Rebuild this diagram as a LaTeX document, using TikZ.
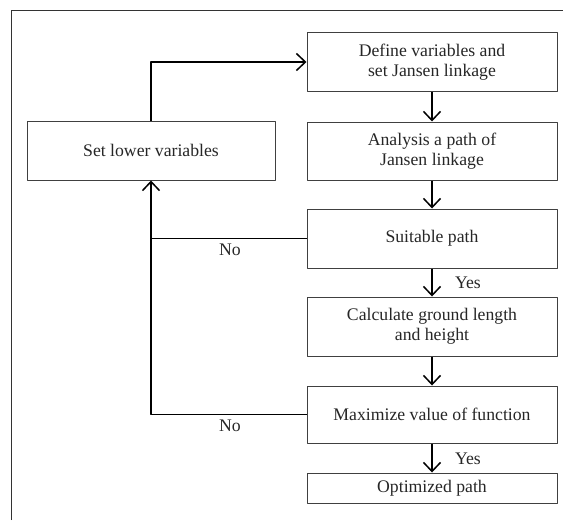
\documentclass[tikz,border=0pt]{standalone}
\usepackage{fontspec}
\setmainfont{Liberation Serif}
\usetikzlibrary{arrows.meta}

\begin{document}
\begin{tikzpicture}[x=1pt,y=-1pt, line join=round,
	box/.style={draw=black!75, line width=1pt, minimum width=250pt, align=center, text=black!85,
		font=\fontsize{17.7}{20.5}\selectfont},
	lbl/.style={text=black!85, font=\fontsize{17.7}{20.5}\selectfont},
	link/.style={line width=1.5pt},
	arr/.style={link, -{Straight Barb[length=9pt,width=17pt,line width=1.5pt]}}]
	\useasboundingbox (0,0) rectangle (572,520);
	% frame
	\draw[black!80, line width=1pt] (11,520) -- (11,10) -- (563,10);
	% boxes
	\node[box, minimum height=59pt] (def) at (432,62) {Define variables and\\set Jansen linkage};
	\node[box, minimum height=58pt] (ana) at (432,151) {Analysis a path of\\Jansen linkage};
	\node[box, minimum width=248pt, minimum height=59pt] (low) at (151,150.5) {Set lower variables};
	\node[box, minimum height=59pt] (suit) at (432,238.5) {Suitable path};
	\node[box, minimum height=59pt] (calc) at (432,326.5) {Calculate ground length\\and height};
	\node[box, minimum height=57pt] (maxf) at (432,414.5) {Maximize value of function};
	\node[box, minimum height=30pt] (opt) at (432,488) {Optimized path};
	% arrows
	\draw[arr] (def) -- (ana);
	\draw[arr] (ana) -- (suit);
	\draw[arr] (suit) -- (calc);
	\draw[arr] (calc) -- (maxf);
	\draw[arr] (maxf) -- (opt);
	\draw[arr] (low.north) |- (def.west);
	\draw[link] (suit.west) -- (suit.west -| low.south);
	\draw[arr] (maxf.west) -| (low.south);
	% labels
	\node[lbl] (no1) at (230,250) {No};
	\node[lbl] (no2) at (230,426) {No};
	\node[lbl] (yes1) at (468,283) {Yes};
	\node[lbl] (yes2) at (468,459) {Yes};
\end{tikzpicture}
\end{document}
